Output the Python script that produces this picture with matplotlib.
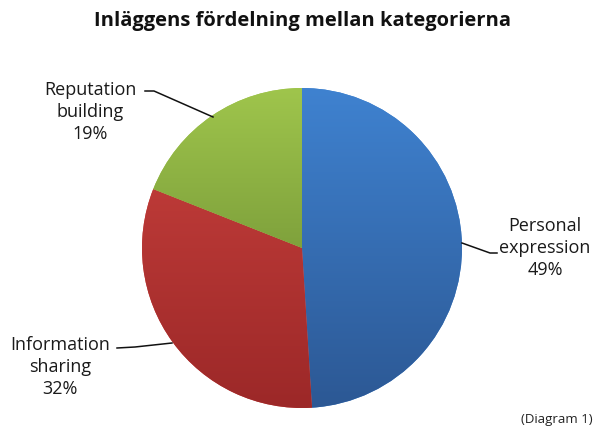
import numpy as np
import matplotlib
matplotlib.use("Agg")
import matplotlib.pyplot as plt
from matplotlib.colors import LinearSegmentedColormap

title = "Inläggens fördelning mellan kategorierna"
categories = ["Personal\nexpression", "Information\nsharing", "Reputation\nbuilding"]
values = [49, 32, 19]
top_colors = ["#3F82D0", "#CB423E", "#9FC54C"]
bottom_colors = ["#2C5894", "#9C2828", "#5F7E2C"]

W, H = 595, 428
fig = plt.figure(figsize=(W / 100, H / 100), dpi=100)
ax = fig.add_axes([0, 0, 1, 1])

cx, cy, r = 302, H - 248, 160
wedges, _ = ax.pie(values, startangle=90, counterclock=False, center=(cx, cy),
                   radius=r, colors=top_colors, frame=True,
                   wedgeprops=dict(linewidth=0))

grad = np.linspace(1, 0, 256).reshape(-1, 1)
for w, c1, c2 in zip(wedges, top_colors, bottom_colors):
    cmap = LinearSegmentedColormap.from_list("g", [c2, c1])
    im = ax.imshow(grad, cmap=cmap, extent=(cx - r, cx + r, cy - r, cy + r),
                   aspect="auto", origin="upper", zorder=2, interpolation="bilinear")
    im.set_clip_path(w)
ax.set_xlim(0, W)
ax.set_ylim(0, H)
ax.set_aspect("equal")
ax.axis("off")

font = "Open Sans"
fig.text(302 / W, 1 - 21 / H, title, ha="center", va="center", fontsize=14.5,
         fontweight="bold", family=font, color="#111111")

label_pos = [(545, 248), (60, 367), (90, 112)]
for (x, y), lab, v in zip(label_pos, categories, values):
    ax.text(x, H - y, f"{lab}\n{v}%", ha="center", va="center", fontsize=13,
            family=font, color="#1a1a1a", linespacing=1.3, zorder=5)

leaders = [
    [(462, 243), (490, 253), (497, 253)],
    [(117, 348), (135, 347), (172, 343)],
    [(145, 91), (154, 91), (213, 117)],
]
for pts in leaders:
    xs = [p[0] for p in pts]
    ys = [H - p[1] for p in pts]
    ax.plot(xs, ys, color="#111111", lw=1.1, zorder=4)

fig.text(593 / W, 1 - 420 / H, "(Diagram 1)", ha="right", va="center",
         fontsize=9.5, family=font, color="#222222")

fig.savefig("out.png", dpi=100, facecolor="white")
